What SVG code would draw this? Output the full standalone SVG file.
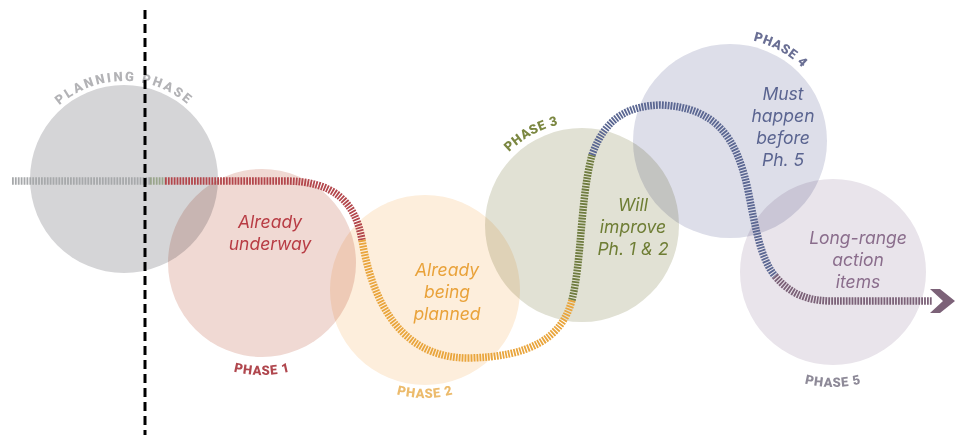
<svg xmlns="http://www.w3.org/2000/svg" width="966" height="435" viewBox="0 0 966 435">
<style>
.c{mix-blend-mode:multiply}
.lbl{font-family:Roboto,"Liberation Sans",sans-serif;font-weight:900;font-size:13px;letter-spacing:0.7px}
.t{font-family:Inter,Roboto,"Liberation Sans",sans-serif;font-style:italic;font-size:17.5px;text-anchor:middle}
.p{fill:none;stroke-width:7.5;stroke-dasharray:1.8 1.1}
</style>
<defs>
<path id="arc0" d="M26,179 A98,98 0 0 1 222,179"/>
<path id="arc1" d="M150,263 A112,112 0 0 0 374,263"/>
<path id="arc2" d="M317,290 A108,108 0 0 0 533,290"/>
<path id="arc3" d="M479,225 A103,103 0 0 1 685,225"/>
<path id="arc4" d="M627,141 A103,103 0 0 1 833,141"/>
<path id="arc5" d="M718,272 A115,115 0 0 0 948,272"/>
</defs>
<rect width="966" height="435" fill="#ffffff"/>
<g id="planning">
<circle class="c" cx="124" cy="179" r="94" fill="#d5d5d7"/>
<text class="lbl" fill="#b3b3b6" style="font-size:13px;letter-spacing:2.2px"><textPath href="#arc0" startOffset="50%" text-anchor="middle">PLANNING PHASE</textPath></text>
</g>
<g id="phase1">
<circle class="c" cx="262" cy="263" r="94" fill="#f0d9d3"/>
<text class="lbl" fill="#b0474e"><textPath href="#arc1" startOffset="50%" text-anchor="middle">PHASE 1</textPath></text>
<text class="t" fill="#b83c44"><tspan x="270" y="228">Already</tspan><tspan x="270" y="250">underway</tspan></text>
</g>
<g id="phase2">
<circle class="c" cx="425" cy="290" r="95" fill="#fdeedc"/>
<text class="lbl" fill="#ecbb6c"><textPath href="#arc2" startOffset="50%" text-anchor="middle">PHASE 2</textPath></text>
<text class="t" fill="#e9a23a"><tspan x="447" y="276">Already</tspan><tspan x="447" y="298">being</tspan><tspan x="447" y="320">planned</tspan></text>
</g>
<g id="phase3">
<circle class="c" cx="582" cy="225" r="97" fill="#e1e1d4"/>
<text class="lbl" fill="#7b8741" transform="rotate(-29 582 225)"><textPath href="#arc3" startOffset="50%" text-anchor="middle">PHASE 3</textPath></text>
<text class="t" fill="#6e7d34"><tspan x="633" y="211">Will</tspan><tspan x="633" y="233">improve</tspan><tspan x="633" y="255">Ph. 1 &amp; 2</tspan></text>
</g>
<g id="phase4">
<circle class="c" cx="730" cy="141" r="97" fill="#dddee9"/>
<text class="lbl" fill="#6a6f94" transform="rotate(29 730 141)"><textPath href="#arc4" startOffset="50%" text-anchor="middle">PHASE 4</textPath></text>
<text class="t" fill="#5a6490"><tspan x="783" y="100">Must</tspan><tspan x="783" y="122">happen</tspan><tspan x="783" y="144">before</tspan><tspan x="783" y="166">Ph. 5</tspan></text>
</g>
<g id="phase5">
<circle class="c" cx="833" cy="272" r="93" fill="#e9e4eb"/>
<text class="lbl" fill="#8e8a98"><textPath href="#arc5" startOffset="50%" text-anchor="middle">PHASE 5</textPath></text>
<text class="t" fill="#8a6d8c"><tspan x="858" y="244">Long-range</tspan><tspan x="858" y="266">action</tspan><tspan x="858" y="288">items</tspan></text>
</g>
<g id="connectors">
<path class="p" stroke="#a7a9ab" d="M12,181 H150"/>
<path class="p" stroke="#9aa58c" d="M150,181 H165"/>
<path class="p" stroke="#b3474c" d="M165,181 H285 C332,181 355,200 362,240"/>
<path class="p" stroke="#e9a53c" d="M362,240 C372,300 400,358 468,358 C530,357 562,338 572,300"/>
<path class="p" stroke="#6e7b3e" d="M572,300 C582,260 580,200 592,155"/>
<path class="p" stroke="#5b6792" d="M592,155 C605,118 628,106 660,105 C718,107 737,140 748,190 C755,225 760,258 775,276"/>
<path class="p" stroke="#7c6278" d="M775,276 C790,294 808,301 832,301 H932"/>
<polygon fill="#7c6278" points="930,289 940,289 955,301 940,313 930,313 943,301"/>
<line x1="145" y1="10" x2="145" y2="435" stroke="#000" stroke-width="3" stroke-dasharray="9 5"/>
</g>
</svg>
